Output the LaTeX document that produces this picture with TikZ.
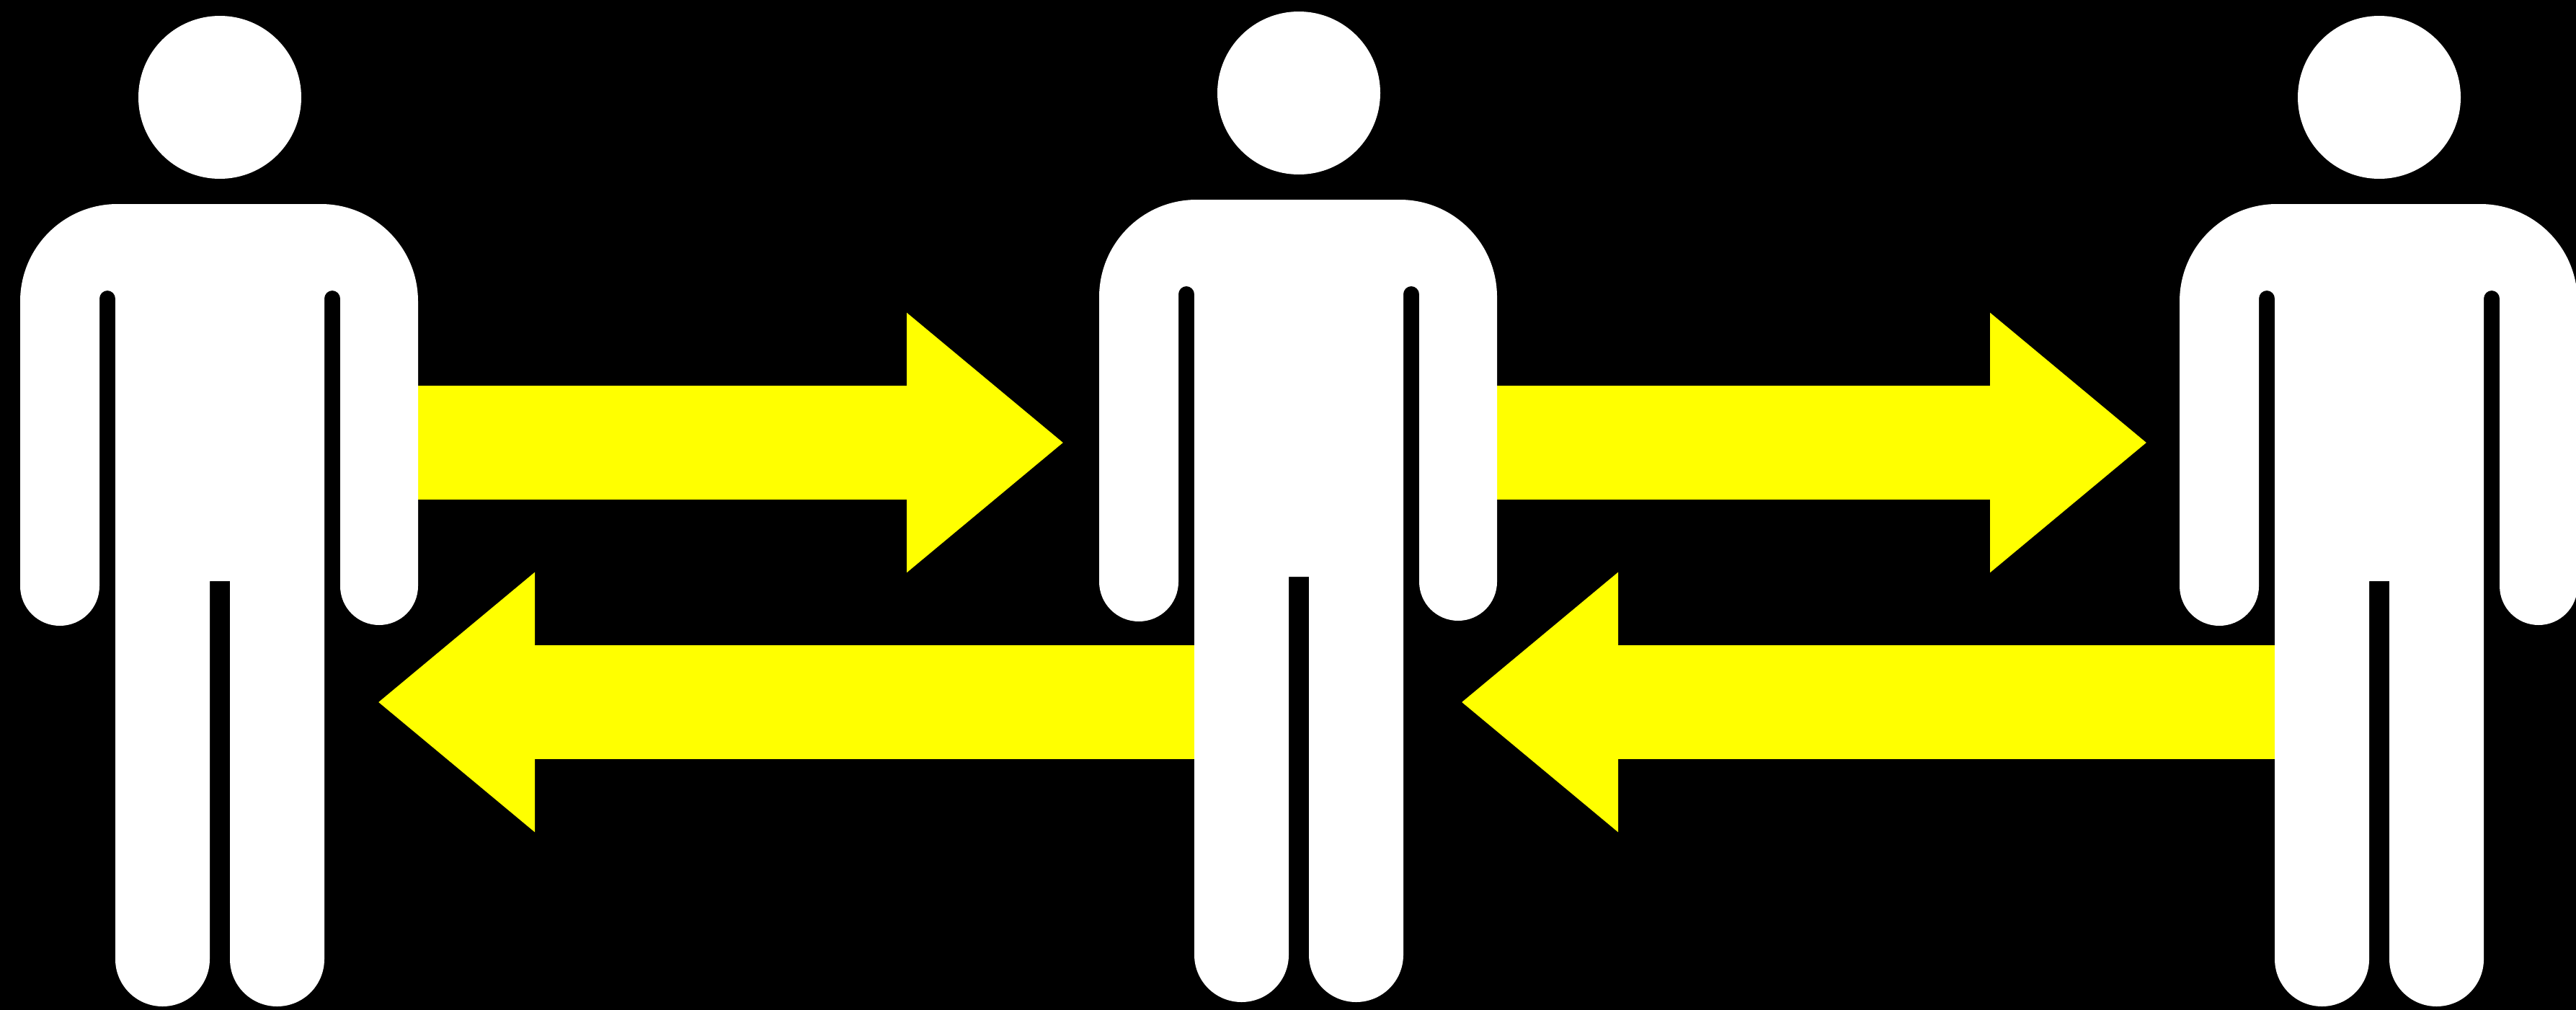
\documentclass[tikz,border=0pt]{standalone}
\usetikzlibrary{arrows.meta}
\definecolor{swapyellow}{RGB}{255,255,0}

\begin{document}
\begin{tikzpicture}[
  bodyshape/.style={fill=white},
  headshape/.style={circle, fill=white, inner sep=0pt, minimum size=2.26cm},
  swap/.style={swapyellow, line width=1.58cm, -{Triangle[length=2.18cm, width=3.46cm]}},
  person/.pic={
    \node[headshape] (-head) at (3.05,-1.35) {};
    \fill[bodyshape] (1.63,-2.83) -- (4.45,-2.83)
      arc[start angle=90, end angle=0, radius=1.35]
      -- (5.80,-8.13) arc[start angle=0, end angle=-180, radius=.54]
      -- (4.72,-4.14) arc[start angle=0, end angle=180, radius=.11]
      -- (4.50,-13.305) arc[start angle=0, end angle=-180, radius=.655]
      -- (3.19,-8.06) -- (2.91,-8.06)
      -- (2.91,-13.305) arc[start angle=0, end angle=-180, radius=.655]
      -- (1.60,-4.14) arc[start angle=0, end angle=180, radius=.11]
      -- (1.38,-8.13) arc[start angle=0, end angle=-180, radius=.55]
      -- (0.28,-4.18) arc[start angle=180, end angle=90, radius=1.35]
      -- cycle;
  }]

  % background
  \useasboundingbox (0,0) rectangle (35.74,-14);
  \fill[black] (-0.1,0.1) rectangle (35.84,-14.1);

  % arrow ends
  \coordinate (s1) at (5.70,-6.14);
  \coordinate (t1) at (14.76,-6.14);
  \coordinate (s2) at (16.67,-9.74);
  \coordinate (t2) at (5.24,-9.74);
  \coordinate (s3) at (20.70,-6.14);
  \coordinate (t3) at (29.79,-6.14);
  \coordinate (s4) at (31.65,-9.74);
  \coordinate (t4) at (20.27,-9.74);

  % arrows, the bodies cover their tails
  \draw[swap] (s1) -- (t1);
  \draw[swap] (s2) -- (t2);
  \draw[swap] (s3) -- (t3);
  \draw[swap] (s4) -- (t4);

  % people
  \pic (p1) at (0,0) {person};
  \pic (p2) at (14.97,0.06) {person};
  \pic (p3) at (29.96,0) {person};

\end{tikzpicture}
\end{document}
